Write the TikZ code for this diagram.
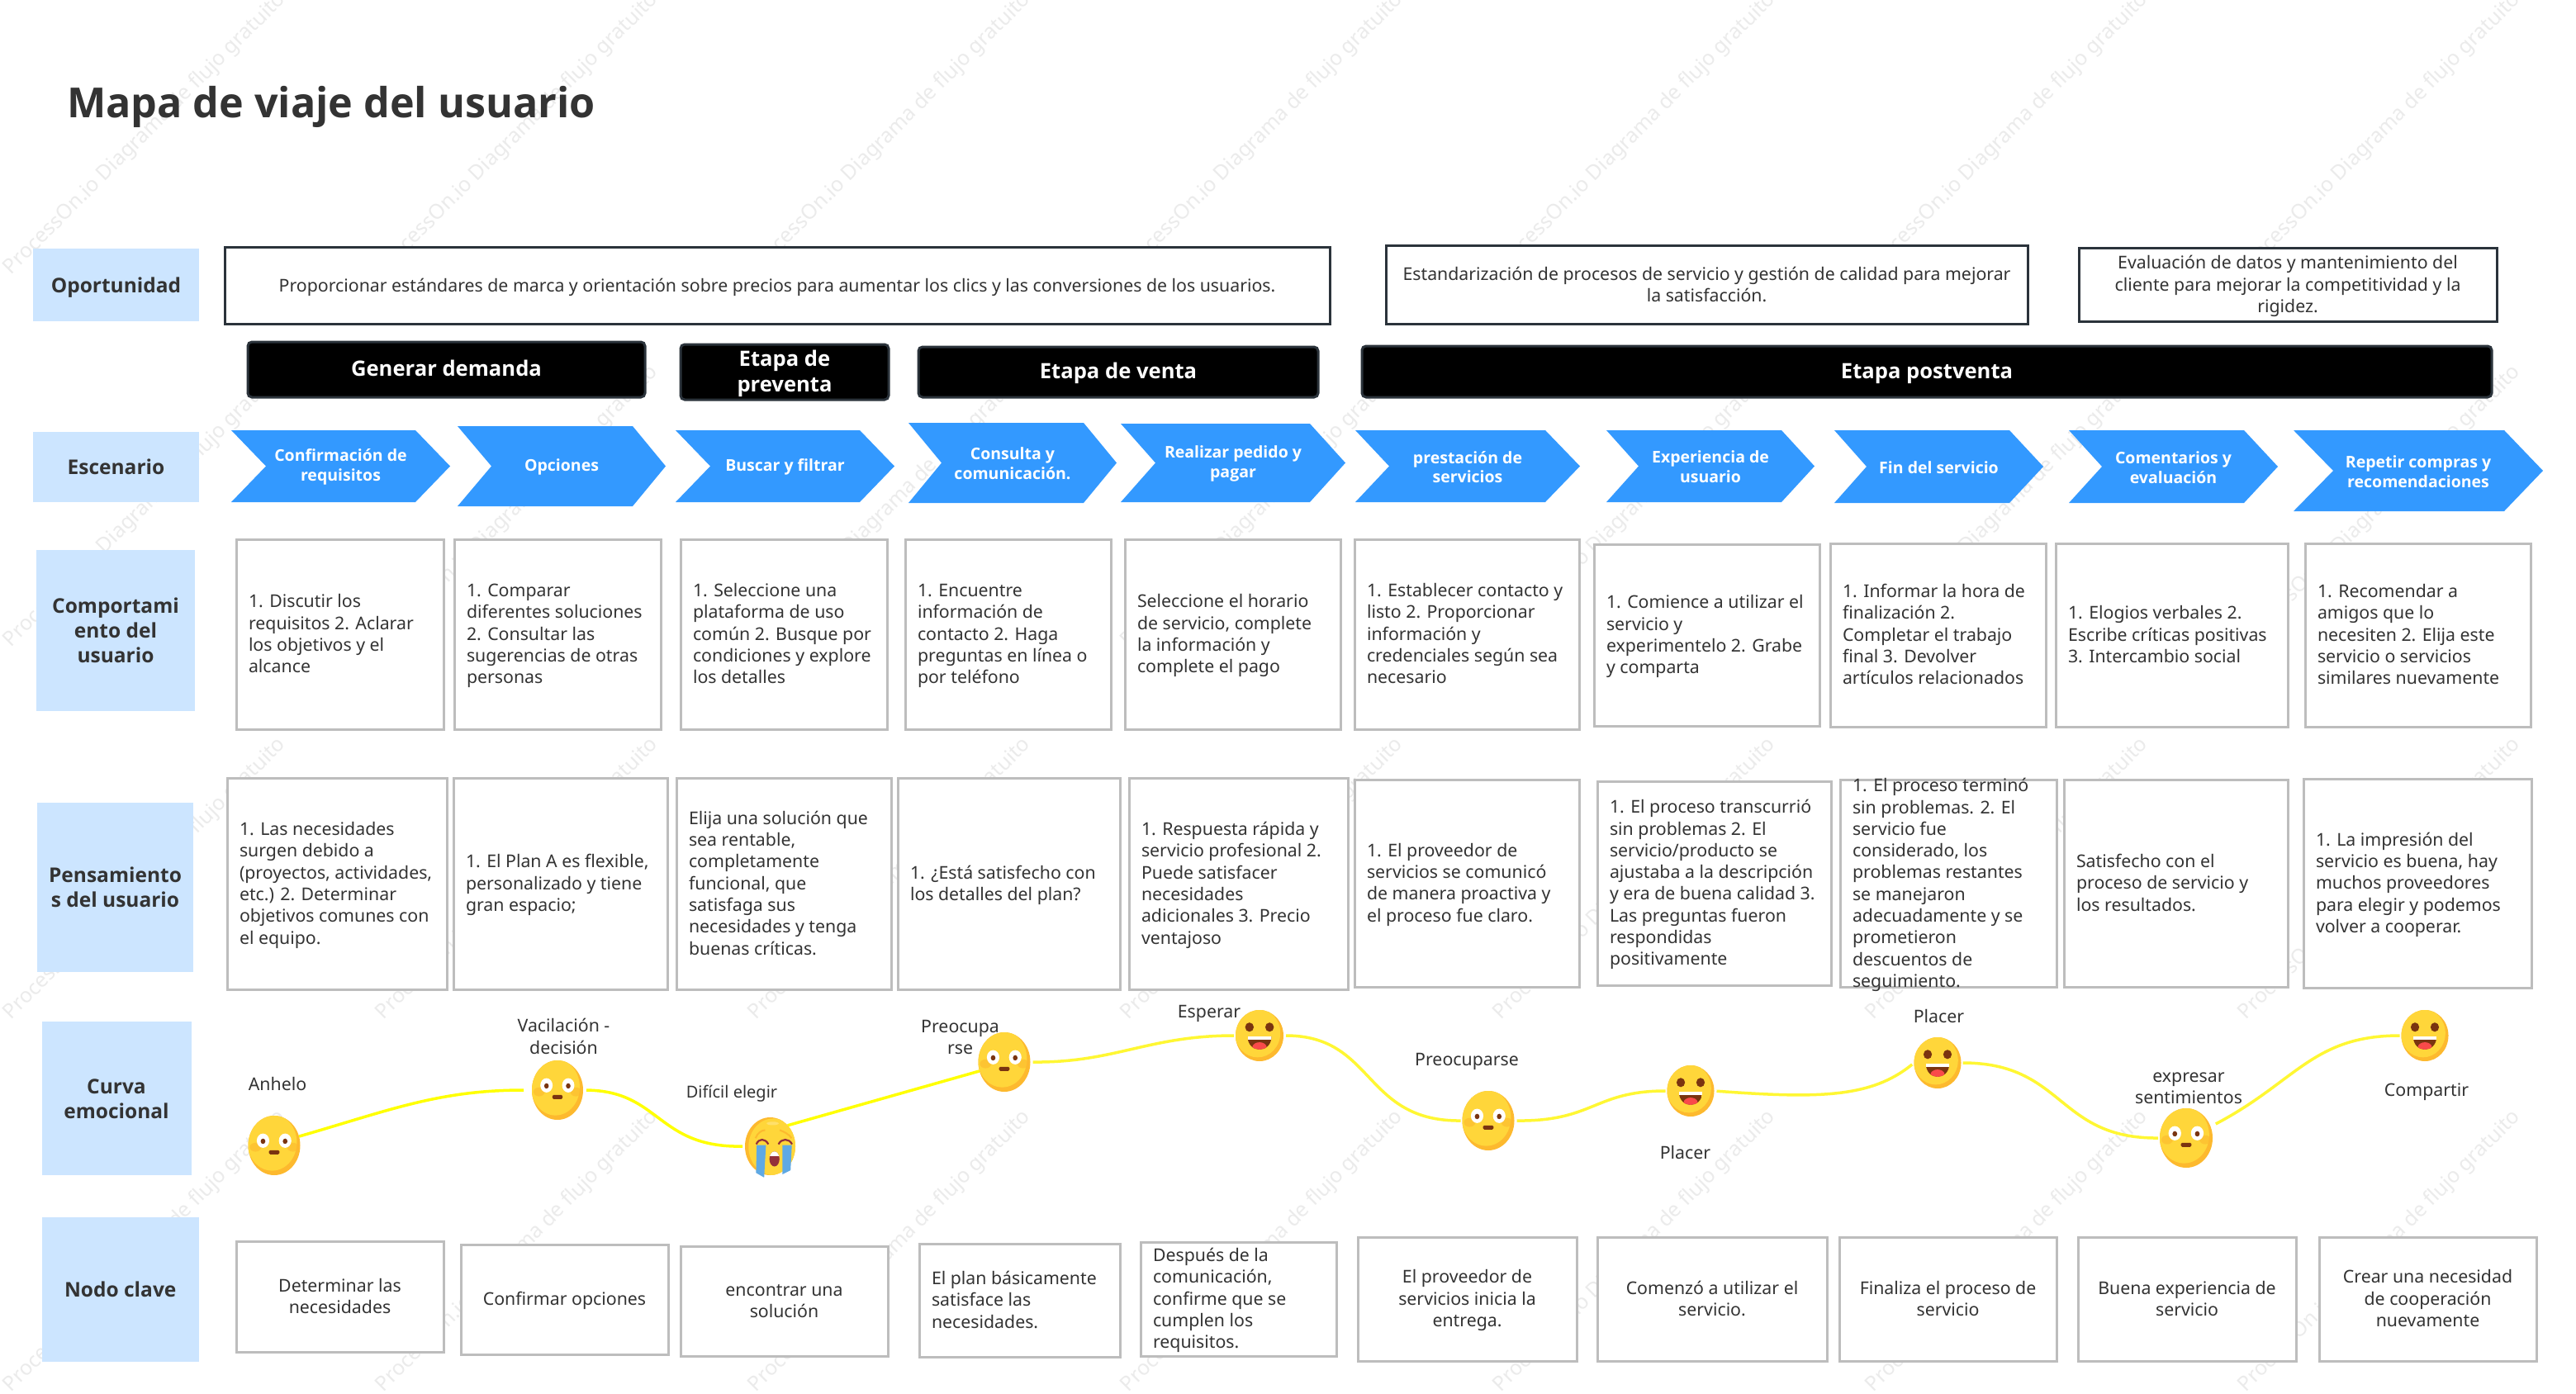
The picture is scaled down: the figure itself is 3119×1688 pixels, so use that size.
\documentclass[tikz,border=0pt]{standalone}
\usepackage{fontspec}
\setmainfont{Noto Sans}
\newfontfamily\headfont{Open Sans}
\usetikzlibrary{shapes.geometric}
\definecolor{inkc}{HTML}{333333}
\definecolor{labelblue}{HTML}{CCE5FF}
\definecolor{chevblue}{HTML}{3399FF}
\definecolor{cardgray}{HTML}{BDBDBD}
\definecolor{frameink}{HTML}{2B333B}
\definecolor{wmark}{HTML}{EBEBEB}
\definecolor{emolight}{HTML}{FFD63A}
\definecolor{emodark}{HTML}{FDB92E}
\definecolor{emobrown}{HTML}{7A3410}
\definecolor{emored}{HTML}{F94A4A}
\definecolor{teal}{HTML}{5FA9E4}
\definecolor{cryred}{HTML}{93303A}
\definecolor{curveA}{HTML}{FFFF00}
\definecolor{curveB}{HTML}{FFF733}
\tikzset{
 bodyfont/.style={font=\fontsize{21.3}{26.3}\selectfont},
 rectbase/.style={rectangle,inner sep=0pt,outer sep=0pt,align=center,text=inkc},
 labelbox/.style={rectbase,fill=labelblue,font=\fontsize{24.5}{30}\selectfont\headfont\bfseries},
 stagebox/.style={rectbase,fill=black,draw=frameink,line width=3pt,rounded corners=5pt,text=white,font=\fontsize{25.6}{31.5}\selectfont\headfont\bfseries},
 framebox/.style={rectbase,fill=white,draw=frameink,line width=3pt,bodyfont},
 cardbox/.style={rectbase,fill=white,draw=cardgray,line width=3pt,bodyfont},
 chevtext/.style={inner sep=0pt,outer sep=0pt,align=center,text=white,font=\fontsize{19.5}{23.7}\selectfont\headfont\bfseries},
 emonode/.style={ellipse,inner sep=0pt,outer sep=0pt},
 emolabel/.style={inner sep=0pt,outer sep=0pt,align=center,text=inkc,bodyfont},
 curveone/.style={curveA,line width=3.5pt},
 curvetwo/.style={curveB,line width=3.5pt},
 wmtext/.style={inner sep=0pt,outer sep=0pt,text=wmark,rotate=45,anchor=east,font=\fontsize{25}{25}\selectfont},
}
\newcommand\rawrect[7]{%
 \pgfmathsetmacro\rcw{#5-#3}\pgfmathsetmacro\rch{#6-#4}%
 \pgfmathsetmacro\rcx{(#3+#5)/2}\pgfmathsetmacro\rcy{(#4+#6)/2}%
 \node[#1,minimum width=\rcw pt,minimum height=\rch pt] (#2) at (\rcx,\rcy) {#7};}
\newcommand\myrect[7]{\rawrect{#1}{#2}{#3}{#4}{#5}{#6}{\begin{tabular}{@{}c@{}}\noalign{\vskip4pt}#7\end{tabular}}}
\newcommand\headrect[7]{\rawrect{#1}{#2}{#3}{#4}{#5}{#6}{\begin{tabular}{@{}c@{}}\noalign{\vskip6pt}#7\end{tabular}}}
\newcommand\leftcard[6]{%
 \pgfmathsetmacro\rct{#4-#2-30}%
 \rawrect{cardbox}{#1}{#2}{#3}{#4}{#5}{\makebox[\rct pt][l]{\begin{tabular}{@{}l@{}}\noalign{\vskip4pt}#6\end{tabular}}}}
\newcommand\chevshape[8]{%
 \pgfmathsetmacro\rmy{(#6+#7)/2}\pgfmathsetmacro\rtx{(#2+#5)/2}\pgfmathsetmacro\rty{(#6+#7)/2+1}%
 \fill[chevblue] (#2,#6) -- (#4,#6) -- (#5,\rmy) -- (#4,#7) -- (#2,#7) -- (#3,\rmy) -- cycle;
 \node[chevtext] (#1) at (\rtx,\rty) {#8};}
\newcommand\emobase[3]{%
 \fill[emodark] (0,0) ellipse [x radius=1,y radius=1];
 \begin{scope}
 \clip (0,0) ellipse [x radius=1,y radius=1];
 \fill[emolight] (#1,#2) ellipse [x radius=#3,y radius=#3];
 \end{scope}}
\newcommand\emoshock[3]{%
 \begin{scope}[shift={(#1.center)},x=#2pt,y=-#3pt]
 \emobase{-.08}{-.1}{.95}
 \fill[emodark,opacity=.6] (-.72,.06) ellipse [x radius=.22,y radius=.15];
 \fill[emodark,opacity=.6] (.72,.06) ellipse [x radius=.22,y radius=.15];
 \fill[white] (-.43,-.16) ellipse [x radius=.24,y radius=.24];
 \fill[white] (.42,-.16) ellipse [x radius=.24,y radius=.24];
 \fill[emobrown] (-.43,-.14) ellipse [x radius=.09,y radius=.09];
 \fill[emobrown] (.42,-.14) ellipse [x radius=.09,y radius=.09];
 \fill[emobrown,rounded corners=1.5pt] (-.2,.16) rectangle (.2,.3);
 \end{scope}}
\newcommand\emohappy[3]{%
 \begin{scope}[shift={(#1.center)},x=#2pt,y=-#3pt]
 \emobase{-.08}{-.1}{.95}
 \fill[emobrown] (-.42,-.33) ellipse [x radius=.18,y radius=.18];
 \fill[emobrown] (.42,-.33) ellipse [x radius=.18,y radius=.18];
 \begin{scope}
 \clip (-.5,.02) -- (.5,.02) .. controls (.5,.72) and (-.5,.72) .. (-.5,.02) -- cycle;
 \fill[emobrown] (-.5,.02) rectangle (.5,.6);
 \fill[white] (-.5,.02) rectangle (.5,.17);
 \fill[emored] (0,.46) ellipse [x radius=.3,y radius=.2];
 \end{scope}
 \end{scope}}
\newcommand\emocry[3]{%
 \begin{scope}[shift={(#1.center)},x=#2pt,y=-#3pt]
 \emobase{.12}{.02}{.98}
 \fill[white,opacity=.25] (.1,-.79) ellipse [x radius=.24,y radius=.06];
 \draw[emodark,line width=2pt] (-.58,-.28) .. controls (-.5,-.46) and (-.35,-.55) .. (-.2,-.56);
 \draw[emodark,line width=2pt] (.38,-.56) .. controls (.55,-.5) and (.75,-.42) .. (.85,-.28);
 \fill[teal] (-.535,-.04) -- (-.167,-.04) -- (-.24,1.08) -- (-.56,.92) -- cycle;
 \fill[teal] (.49,-.04) -- (.86,-.04) -- (.81,.83) -- (.49,.97) -- cycle;
 \draw[cryred,line width=2.2pt] (-.55,-.07) .. controls (-.45,-.28) and (-.2,-.28) .. (-.07,-.07);
 \draw[cryred,line width=2.2pt] (.33,-.07) .. controls (.45,-.28) and (.75,-.28) .. (.87,-.07);
 \fill[cryred] (.17,.44) ellipse [x radius=.2,y radius=.26];
 \begin{scope}
 \clip (.17,.44) ellipse [x radius=.2,y radius=.26];
 \fill[white] (-.1,.15) rectangle (.4,.33);
 \end{scope}
 \end{scope}}
\begin{document}
\begin{tikzpicture}[x=1pt,y=-1pt]
\useasboundingbox (0,0) rectangle (3119,1688);
\fill[white] (0,0) rectangle (3119,1688);
% watermark
\begin{scope}
\clip (0,0) rectangle (3119,1688);
\foreach \wi in {0,...,6}{
 \foreach \wj in {0,...,4}{
  \node[wmtext] (wm\wi\wj) at ({342+451*\wi},{-4+451*\wj}) {ProcessOn.io Diagrama de flujo gratuito};
 }}
\end{scope}
% title
\node[inner sep=0pt,outer sep=0pt,anchor=west,text=inkc,font=\fontsize{50.2}{60}\selectfont\headfont\bfseries] (title) at (81,129) {Mapa de viaje del usuario};
% labels
\headrect{labelbox}{lop}{40}{301}{241}{389}{Oportunidad}
\headrect{labelbox}{lesc}{40}{523}{241}{608}{Escenario}
\headrect{labelbox}{lcom}{44}{666}{236}{861}{Comportami\\ento del\\usuario}
\headrect{labelbox}{lpen}{45}{972}{234}{1177}{Pensamiento\\s del usuario}
\headrect{labelbox}{lcur}{50.5}{1237}{231.5}{1423}{Curva\\emocional}
\headrect{labelbox}{lnod}{50.5}{1474}{241}{1649}{Nodo clave}
% opportunities
\myrect{framebox}{op1}{272}{300}{1610}{392}{Proporcionar estándares de marca y orientación sobre precios para aumentar los clics y las conversiones de los usuarios.}
\myrect{framebox}{op2}{1678}{298}{2455}{392}{Estandarización de procesos de servicio y gestión de calidad para mejorar\\la satisfacción.}
\myrect{framebox}{op3}{2517}{301}{3023}{389}{Evaluación de datos y mantenimiento del\\cliente para mejorar la competitividad y la\\rigidez.}
% stages
\myrect{stagebox}{st1}{300}{414}{781}{481}{Generar demanda}
\myrect{stagebox}{st2}{824}{417}{1076}{484}{Etapa de\\preventa}
\myrect{stagebox}{st3}{1112}{420}{1596}{481}{Etapa de venta}
\myrect{stagebox}{st4}{1649}{419}{3017}{481}{Etapa postventa}
% chevrons
\chevshape{ch1}{280}{322}{503}{545}{521}{608}{Confirmación de\\requisitos}
\chevshape{ch2}{554}{595}{766}{806}{516}{613}{Opciones}
\chevshape{ch3}{818}{860}{1041}{1083}{521}{608}{Buscar y filtrar}
\chevshape{ch4}{1100}{1140}{1312}{1352}{512}{609}{Consulta y\\comunicación.}
\chevshape{ch5}{1357}{1399}{1586}{1629}{513}{608}{Realizar pedido y\\pagar}
\chevshape{ch6}{1641}{1682}{1871}{1913}{521}{608}{prestación de\\servicios}
\chevshape{ch7}{1945}{1984}{2157}{2197}{521}{608}{Experiencia de\\usuario}
\chevshape{ch8}{2221}{2260}{2433}{2474}{521}{609}{Fin del servicio}
\chevshape{ch9}{2505}{2545}{2717}{2758}{521}{609}{Comentarios y\\evaluación}
\chevshape{ch10}{2777}{2825}{3032}{3079}{521}{619}{Repetir compras y\\recomendaciones}
% behaviour
\leftcard{b1}{286}{653}{537}{883}{1. Discutir los\\requisitos 2. Aclarar\\los objetivos y el\\alcance}
\leftcard{b2}{550}{653}{800}{883}{1. Comparar\\diferentes soluciones\\2. Consultar las\\sugerencias de otras\\personas}
\leftcard{b3}{824}{653}{1074}{883}{1. Seleccione una\\plataforma de uso\\común 2. Busque por\\condiciones y explore\\los detalles}
\leftcard{b4}{1096}{653}{1345}{883}{1. Encuentre\\información de\\contacto 2. Haga\\preguntas en línea o\\por teléfono}
\leftcard{b5}{1362}{653}{1623}{883}{Seleccione el horario\\de servicio, complete\\la información y\\complete el pago}
\leftcard{b6}{1640}{653}{1912}{883}{1. Establecer contacto y\\listo 2. Proporcionar\\información y\\credenciales según sea\\necesario}
\leftcard{b7}{1930}{659}{2203}{879}{1. Comience a utilizar el\\servicio y\\experimentelo 2. Grabe\\y comparta}
\leftcard{b8}{2216}{658}{2477}{880}{1. Informar la hora de\\finalización 2.\\Completar el trabajo\\final 3. Devolver\\artículos relacionados}
\leftcard{b9}{2489}{658}{2770}{880}{1. Elogios verbales 2.\\Escribe críticas positivas\\3. Intercambio social}
\leftcard{b10}{2791}{658}{3064}{880}{1. Recomendar a\\amigos que lo\\necesiten 2. Elija este\\servicio o servicios\\similares nuevamente}
% thoughts
\leftcard{t1}{275}{942}{541}{1198}{1. Las necesidades\\surgen debido a\\(proyectos, actividades,\\etc.) 2. Determinar\\objetivos comunes con\\el equipo.}
\leftcard{t2}{549}{942}{808}{1198}{1. El Plan A es flexible,\\personalizado y tiene\\gran espacio;}
\leftcard{t3}{819}{942}{1079}{1198}{Elija una solución que\\sea rentable,\\completamente\\funcional, que\\satisfaga sus\\necesidades y tenga\\buenas críticas.}
\leftcard{t4}{1087}{942}{1356}{1198}{1. ¿Está satisfecho con\\los detalles del plan?}
\leftcard{t5}{1367}{942}{1632}{1198}{1. Respuesta rápida y\\servicio profesional 2.\\Puede satisfacer\\necesidades\\adicionales 3. Precio\\ventajoso}
\leftcard{t6}{1640}{944}{1912}{1195}{1. El proveedor de\\servicios se comunicó\\de manera proactiva y\\el proceso fue claro.}
\leftcard{t7}{1934}{946}{2217}{1193}{1. El proceso transcurrió\\sin problemas 2. El\\servicio/producto se\\ajustaba a la descripción\\y era de buena calidad 3.\\Las preguntas fueron\\respondidas\\positivamente}
\rawrect{cardbox}{t8}{2228}{944}{2490}{1195}{\smash{\raisebox{-7.5pt}{\makebox[232pt][l]{\begin{tabular}{@{}l@{}}1. El proceso terminó\\sin problemas. 2. El\\servicio fue\\considerado, los\\problemas restantes\\se manejaron\\adecuadamente y se\\prometieron\\descuentos de\\seguimiento.\end{tabular}}}}}
\leftcard{t9}{2499}{944}{2770}{1195}{Satisfecho con el\\proceso de servicio y\\los resultados.}
\leftcard{t10}{2789}{943}{3065}{1196}{1. La impresión del\\servicio es buena, hay\\muchos proveedores\\para elegir y podemos\\volver a cooperar.}
% key nodes
\myrect{cardbox}{k1}{286}{1503}{537}{1637}{Determinar las\\necesidades}
\myrect{cardbox}{k2}{558}{1507}{809}{1640}{Confirmar opciones}
\myrect{cardbox}{k3}{824}{1509}{1075}{1642}{encontrar una\\solución}
\leftcard{k4}{1113}{1506}{1356}{1643}{El plan básicamente\\satisface las\\necesidades.}
\leftcard{k5}{1381}{1504}{1618}{1642}{Después de la\\comunicación,\\confirme que se\\cumplen los\\requisitos.}
\myrect{cardbox}{k6}{1644}{1498}{1909}{1648}{El proveedor de\\servicios inicia la\\entrega.}
\myrect{cardbox}{k7}{1934}{1498}{2212}{1648}{Comenzó a utilizar el\\servicio.}
\myrect{cardbox}{k8}{2227}{1498}{2490}{1648}{Finaliza el proceso de\\servicio}
\myrect{cardbox}{k9}{2516}{1498}{2780}{1648}{Buena experiencia de\\servicio}
\myrect{cardbox}{k10}{2808}{1498}{3071}{1648}{Crear una necesidad\\de cooperación\\nuevamente}
% emoji anchors
\node[emonode,minimum width=63pt,minimum height=72pt] (e1) at (332,1387) {};
\node[emonode,minimum width=62pt,minimum height=72pt] (e2) at (675,1320) {};
\node[emonode,minimum width=61pt,minimum height=70pt] (e3) at (932.5,1388) {};
\node[emonode,minimum width=63pt,minimum height=72pt] (e4) at (1216,1286) {};
\node[emonode,minimum width=58pt,minimum height=62pt] (e5) at (1525,1254) {};
\node[emonode,minimum width=63pt,minimum height=72pt] (e6) at (1802,1357) {};
\node[emonode,minimum width=57pt,minimum height=62pt] (e7) at (2047,1321) {};
\node[emonode,minimum width=57pt,minimum height=62pt] (e8) at (2346,1287) {};
\node[emonode,minimum width=64pt,minimum height=72pt] (e9) at (2647,1378) {};
\node[emonode,minimum width=57pt,minimum height=62pt] (e10) at (2936,1254) {};
% curve
\draw[curveone,shorten >=10pt] (e1.20) .. controls (470,1345) and (530,1320) .. (e2.west);
\draw[curveone,shorten <=4pt,shorten >=3pt] (e2.east) .. controls (800,1321) and (795,1390) .. (e3.west);
\draw[curveone] (e3.50) -- (e4.200);
\draw[curvetwo,shorten <=3pt,shorten >=2pt] (e4.east) .. controls (1350,1287) and (1390,1254) .. (e5.west);
\draw[curvetwo,shorten <=3pt,shorten >=2pt] (e5.east) .. controls (1665,1254) and (1650,1358) .. (e6.west);
\draw[curvetwo,shorten <=3pt,shorten >=2pt] (e6.east) .. controls (1930,1358) and (1930,1321) .. (e7.west);
\draw[curvetwo,shorten <=3pt,shorten >=3pt] (e7.east) .. controls (2200,1330) and (2265,1330) .. (e8.west);
\draw[curvetwo,shorten <=2pt,shorten >=2pt] (e8.east) .. controls (2500,1287) and (2490,1379) .. (e9.west);
\draw[curvetwo,shorten <=7pt,shorten >=2pt] (e9.25) .. controls (2780,1310) and (2800,1254) .. (e10.west);
% faces
\emoshock{e1}{31.5}{36}
\emoshock{e2}{31}{36}
\emocry{e3}{30.5}{35}
\emoshock{e4}{31.5}{36}
\emohappy{e5}{29}{31}
\emoshock{e6}{31.5}{36}
\emohappy{e7}{28.5}{31}
\emohappy{e8}{28.5}{31}
\emoshock{e9}{32}{36}
\emohappy{e10}{28.5}{31}
% emotion labels
\node[emolabel] (m1) at (336,1313) {Anhelo};
\node[emolabel] (m2) at (682.5,1255) {Vacilación -\\decisión};
\node[emolabel,font=\fontsize{20}{24}\selectfont] (m3) at (886,1324) {Difícil elegir};
\node[emolabel] (m4) at (1162.5,1256) {Preocupa\\rse};
\node[emolabel] (m5) at (1464,1227) {Esperar};
\node[emolabel] (m6) at (1776,1285) {Preocuparse};
\node[emolabel] (m7) at (2040.5,1395) {Placer};
\node[emolabel] (m8) at (2347.5,1231) {Placer};
\node[emolabel] (m9) at (2650,1318) {expresar\\sentimientos};
\node[emolabel] (m10) at (2938,1322) {Compartir};
\end{tikzpicture}
\end{document}
